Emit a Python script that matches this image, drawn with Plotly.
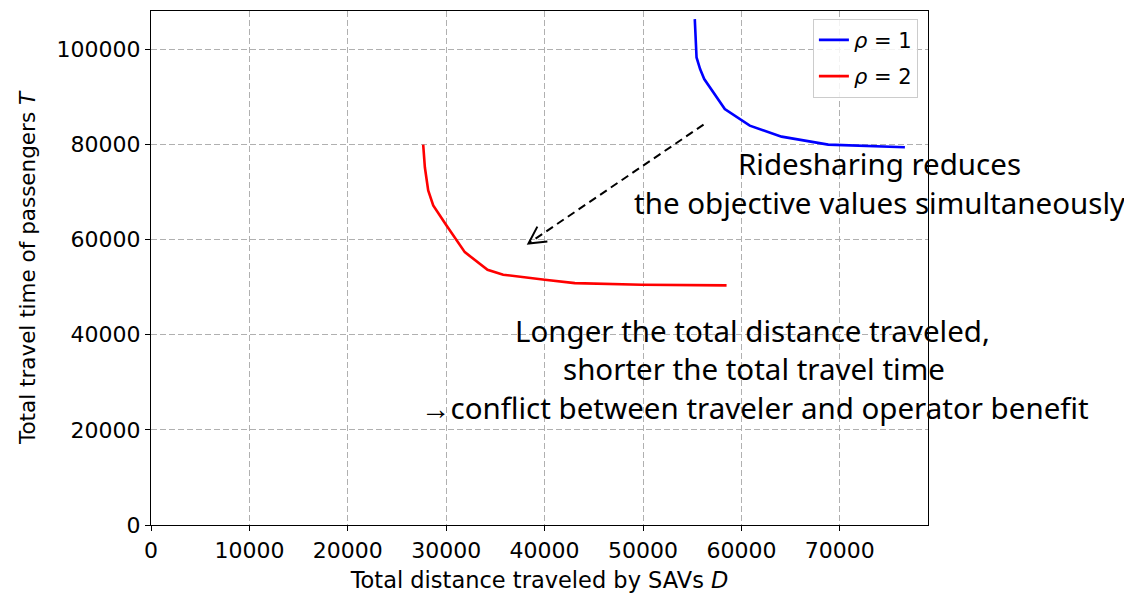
import math
import plotly.graph_objects as go

# Pareto fronts (D, T)
rho1_D = [55260, 55350, 55440, 55800, 56220, 58310, 60850, 64080, 68820, 76610]
rho1_T = [106290, 101500, 98240, 95800, 93710, 87410, 83910, 81600, 79930, 79360]
rho2_D = [27660, 27830, 28170, 28680, 30030, 31890, 34200, 35790, 40020, 43070, 49850, 58490]
rho2_T = [79930, 75160, 70280, 67130, 62930, 57330, 53640, 52590, 51540, 50830, 50490, 50350]
series_names = ["<i>ρ</i> = 1", "<i>ρ</i> = 2"]

x_ticks = [0, 10000, 20000, 30000, 40000, 50000, 60000, 70000]
y_ticks = [0, 20000, 40000, 60000, 80000, 100000]
X_RANGE = [0, 78960]
Y_RANGE = [0, 108000]

# annotation anchors (data coordinates)
arrow_tail = (56150, 84120)
arrow_head = (38360, 59160)
text1 = [("Ridesharing reduces", 74000, 75870),
         ("the objective values simultaneously", 74100, 67680)]
text2 = [("Longer the total distance traveled,", 61140, 40770),
         ("shorter the total travel time", 61300, 32780),
         ("→conflict between traveler and operator benefit", 61400, 24790)]

fig = go.Figure()
fig.add_trace(go.Scatter(x=rho1_D, y=rho1_T, mode="lines", name=series_names[0],
                         legendgroup="a", line=dict(color="#0000ff", width=2.6)))
fig.add_trace(go.Scatter(x=rho2_D, y=rho2_T, mode="lines", name=series_names[1],
                         legendgroup="b", line=dict(color="#ff0000", width=2.6)))

W, H = 1132, 597
ml, mr, mt, mb = 143, 212, 3, 80
pw, ph = W - ml - mr, H - mt - mb

def to_px(x, y):
    return (ml + (x - X_RANGE[0]) / (X_RANGE[1] - X_RANGE[0]) * pw,
            mt + (1 - (y - Y_RANGE[0]) / (Y_RANGE[1] - Y_RANGE[0])) * ph)

def to_data(px, py):
    return (X_RANGE[0] + (px - ml) / pw * (X_RANGE[1] - X_RANGE[0]),
            Y_RANGE[0] + (1 - (py - mt) / ph) * (Y_RANGE[1] - Y_RANGE[0]))

# dashed arrow shaft
fig.add_shape(type="line", x0=arrow_tail[0], y0=arrow_tail[1], x1=arrow_head[0], y1=arrow_head[1],
              line=dict(color="black", width=2, dash="8px,5px"))
# open arrow head
hx, hy = to_px(*arrow_head)
tx, ty = to_px(*arrow_tail)
ang = math.atan2(ty - hy, tx - hx)
L = 19
pts = []
for da in (math.radians(28), -math.radians(28)):
    pts.append(to_data(hx + L * math.cos(ang + da), hy + L * math.sin(ang + da)))
path = f"M {pts[0][0]},{pts[0][1]} L {arrow_head[0]},{arrow_head[1]} L {pts[1][0]},{pts[1][1]}"
fig.add_shape(type="path", path=path, line=dict(color="black", width=2))

for txt, x, y in text1 + text2:
    fig.add_annotation(x=x, y=y, text=txt, showarrow=False, xanchor="center", yanchor="middle",
                       font=dict(family="Noto Sans", size=29.5, color="black"))

axis_common = dict(showline=True, linecolor="black", linewidth=1.3, mirror=True,
                   ticks="outside", ticklen=5, tickwidth=1.3, tickcolor="black",
                   showgrid=True, gridcolor="#b0b0b0", gridwidth=1, griddash="6px,3px",
                   zeroline=False, tickfont=dict(family="DejaVu Sans", size=22, color="black"))

fig.update_xaxes(range=X_RANGE, tickvals=x_ticks, ticktext=[str(v) for v in x_ticks],
                 title=dict(text="Total distance traveled by SAVs <i>D</i>", standoff=10,
                            font=dict(family="DejaVu Sans", size=22.5, color="black")),
                 **axis_common)
fig.update_yaxes(range=Y_RANGE, tickvals=y_ticks, ticktext=[str(v) for v in y_ticks],
                 title=dict(text="Total travel time of passengers <i>T</i>", standoff=14,
                            font=dict(family="DejaVu Sans", size=21.5, color="black")),
                 **axis_common)

fig.update_layout(
    width=W, height=H, autosize=False,
    margin=dict(l=ml, r=mr, t=mt, b=mb),
    plot_bgcolor="white", paper_bgcolor="white",
    legend=dict(x=0.987, y=0.985, xanchor="right", yanchor="top",
                traceorder="grouped", tracegroupgap=6,
                bgcolor="rgba(255,255,255,0.85)", bordercolor="#cccccc", borderwidth=1,
                font=dict(family="DejaVu Sans", size=21, color="black")),
)

fig.write_html("out.html")
